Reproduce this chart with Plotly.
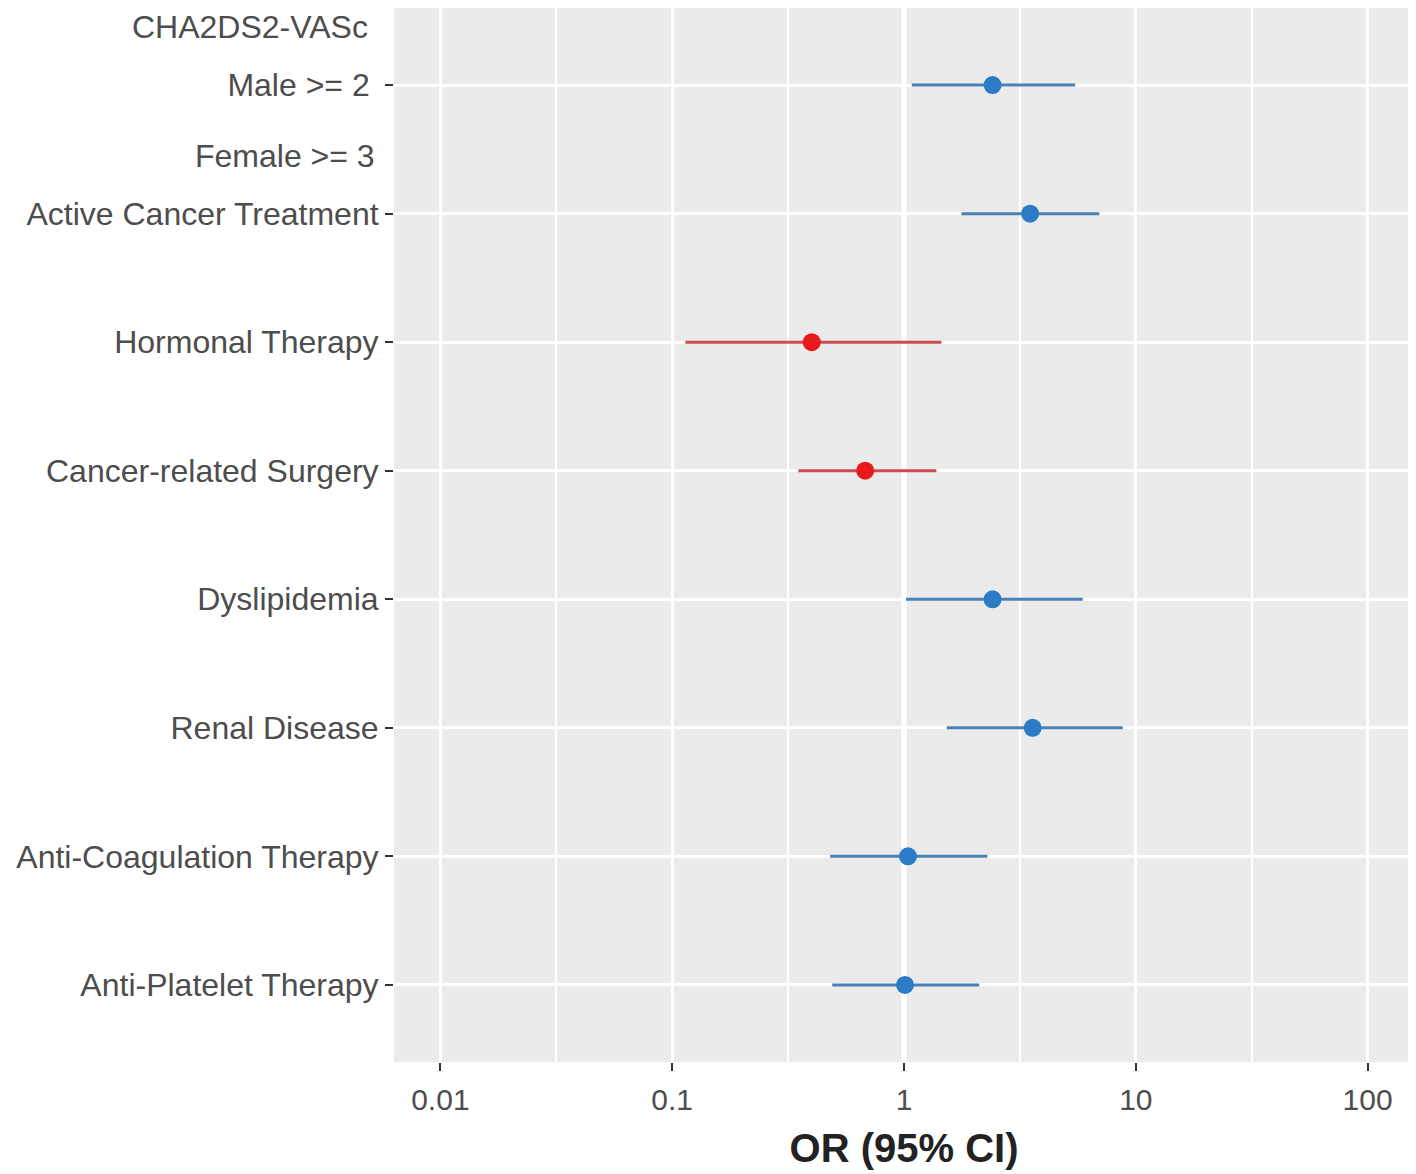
import plotly.graph_objects as go

# ---- data (bottom to top) ----
labels = ["Anti-Platelet Therapy", "Anti-Coagulation Therapy", "Renal Disease",
          "Dyslipidemia", "Cancer-related Surgery", "Hormonal Therapy",
          "Active Cancer Treatment", "Male >= 2\u00a0"]
odds = [1.01, 1.04, 3.59, 2.41, 0.68, 0.40, 3.50, 2.41]
ci_low = [0.49, 0.48, 1.53, 1.02, 0.35, 0.114, 1.77, 1.08]
ci_high = [2.11, 2.29, 8.78, 5.90, 1.38, 1.45, 6.96, 5.47]
group = ["pos", "pos", "pos", "pos", "neg", "neg", "pos", "pos"]

x_tickvals = [0.01, 0.1, 1, 10, 100]
x_ticktext = ["0.01", "0.1", "1", "10", "100"]
x_minor = [0.0316, 0.316, 3.16, 31.6]

extra_labels = ["CHA2DS2-VASc", "Female >= 3"]
extra_pos = [7.45, 6.45]
extra_shift = [-24, -17]

styles = {
    "pos": dict(point="#2B7BC6", line="#4A80B5"),
    "neg": dict(point="#E8191C", line="#CC4B4B"),
}

FONT = "Liberation Sans, Arial, sans-serif"

fig = go.Figure()
ypos = list(range(len(labels)))
for g in ["pos", "neg"]:
    idx = [i for i in range(len(labels)) if group[i] == g]
    fig.add_trace(go.Scatter(
        x=[odds[i] for i in idx],
        y=[ypos[i] for i in idx],
        mode="markers",
        marker=dict(size=18, color=styles[g]["point"], line=dict(width=0)),
        error_x=dict(
            type="data", symmetric=False,
            array=[ci_high[i] - odds[i] for i in idx],
            arrayminus=[odds[i] - ci_low[i] for i in idx],
            width=0, thickness=3, color=styles[g]["line"]),
        showlegend=False,
    ))

# reference line at OR = 1
fig.add_shape(type="line", xref="x", yref="paper", x0=1, x1=1, y0=0, y1=1,
              line=dict(color="white", width=5.5), layer="below")

for txt, yp, sh in zip(extra_labels, extra_pos, extra_shift):
    fig.add_annotation(text=txt, xref="paper", yref="y", x=0, y=yp,
                       xanchor="right", yanchor="middle", xshift=sh,
                       showarrow=False, font=dict(family=FONT, size=32, color="#4D4D4D"))

fig.update_layout(
    width=1408, height=1166,
    margin=dict(l=386, r=2, t=0, b=112),
    paper_bgcolor="white",
    plot_bgcolor="#EBEBEB",
    font=dict(family=FONT, color="#4D4D4D"),
    xaxis=dict(
        type="log", range=[-2.2, 2.2],
        tickmode="array", tickvals=x_tickvals, ticktext=x_ticktext,
        showgrid=True, gridcolor="white", gridwidth=3,
        minor=dict(tickmode="array", tickvals=x_minor, showgrid=True,
                   gridcolor="white", gridwidth=1.6, ticks=""),
        ticks="outside", ticklen=8, tickwidth=1.5, tickcolor="#333333",
        tickfont=dict(size=30, color="#4D4D4D"), ticklabelstandoff=3,
        zeroline=False, showline=False,
        title=dict(text="<b>OR (95% CI)</b>", font=dict(size=40, color="#222222"), standoff=18),
    ),
    yaxis=dict(
        range=[-0.6, 7.6],
        tickmode="array", tickvals=ypos, ticktext=labels,
        showgrid=True, gridcolor="white", gridwidth=3,
        ticks="outside", ticklen=8, tickwidth=1.5, tickcolor="#333333",
        tickfont=dict(size=32, color="#4D4D4D"),
        zeroline=False, showline=False,
    ),
)

fig.write_html("out.html")
